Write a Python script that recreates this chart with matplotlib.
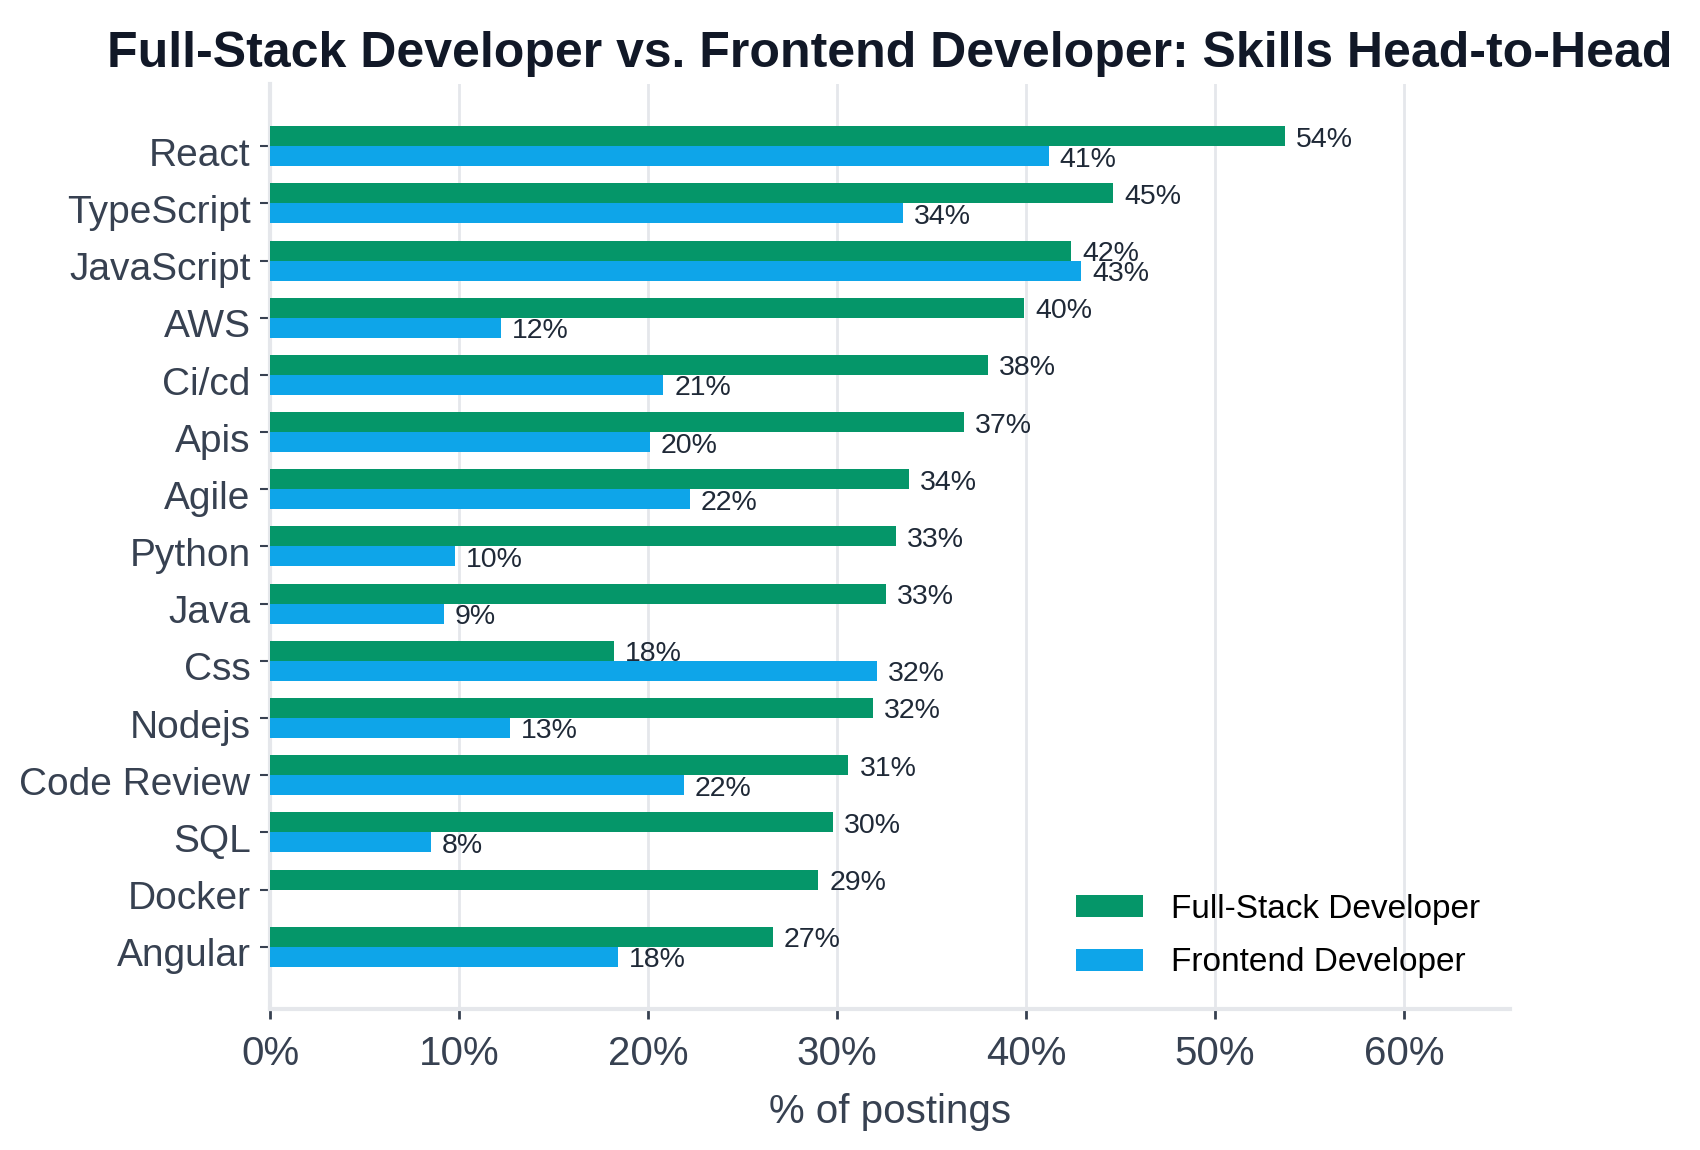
import numpy as np
import matplotlib
matplotlib.use("Agg")
import matplotlib.pyplot as plt
import matplotlib.transforms as mtransforms

skills = ['React', 'TypeScript', 'JavaScript', 'AWS', 'Ci/cd', 'Apis', 'Agile', 'Python',
          'Java', 'Css', 'Nodejs', 'Code Review', 'SQL', 'Docker', 'Angular']
fullstack = [53.7, 44.6, 42.4, 39.9, 38.0, 36.7, 33.8, 33.1, 32.6, 18.2, 31.9, 30.6, 29.8, 29.0, 26.6]
frontend = [41.2, 33.5, 42.9, 12.2, 20.8, 20.1, 22.2, 9.8, 9.2, 32.1, 12.7, 21.9, 8.5, 0.0, 18.4]
series_names = ['Full-Stack Developer', 'Frontend Developer']
xticks = [0, 10, 20, 30, 40, 50, 60]

green = '#059669'
blue = '#0ea5e9'
grid_c = '#e5e7eb'
text_c = '#374151'

plt.rcParams['font.family'] = ['Liberation Sans', 'DejaVu Sans']

fig = plt.figure(figsize=(17, 11.5), dpi=100)
ax = fig.add_axes([0.1588, 0.1226, 0.7294, 0.8044])

y = np.arange(len(skills))
h = 0.35
b1 = ax.barh(y - h / 2, fullstack, height=h, color=green, label=series_names[0], zorder=3)
b2 = ax.barh(y + h / 2, frontend, height=h, color=blue, label=series_names[1], zorder=3)

for bars, vals in [(b1, fullstack), (b2, frontend)]:
    for bar, v in zip(bars, vals):
        if v <= 0:
            continue
        ax.annotate(f"{v:.0f}%", (v, bar.get_y() + bar.get_height() / 2),
                    xytext=(8, -2.5), textcoords='offset points',
                    va='center', ha='left', fontsize=20.5, color='#1f2937')

ax.set_yticks(y)
ax.set_yticklabels(skills)
ax.set_ylim(len(skills) - 1 + 1.09, -1.09)
ax.set_xlim(0, 65.6)
ax.set_xticks(xticks)
ax.set_xticklabels([f"{t}%" for t in xticks])

ax.tick_params(axis='y', labelsize=28, colors=text_c, length=7, width=1.5, pad=7)
ax.tick_params(axis='x', labelsize=29, colors=text_c, length=7, width=2, pad=12)
# nudge category labels a little lower, like the original
shift = mtransforms.ScaledTranslation(0, -4 / 72, fig.dpi_scale_trans)
for lab in ax.get_yticklabels():
    lab.set_transform(lab.get_transform() + shift)
ax.set_xlabel('% of postings', fontsize=29, color=text_c, labelpad=14)

ax.grid(axis='x', color=grid_c, linewidth=2, zorder=0)
ax.grid(axis='y', visible=False)
for s in ['top', 'right']:
    ax.spines[s].set_visible(False)
for s in ['left', 'bottom']:
    ax.spines[s].set_color(grid_c)
    ax.spines[s].set_linewidth(3)

ax.set_title('Full-Stack Developer vs. Frontend Developer: Skills Head-to-Head',
             fontsize=36, fontweight='bold', color='#111827', pad=12)

ax.legend(loc='lower left', bbox_to_anchor=(0.65, 0.033), frameon=False, fontsize=24,
          handlelength=2.0, handleheight=0.66, handletextpad=0.84, labelspacing=0.68,
          borderpad=0, borderaxespad=0)

fig.savefig('out.png', dpi=100)
